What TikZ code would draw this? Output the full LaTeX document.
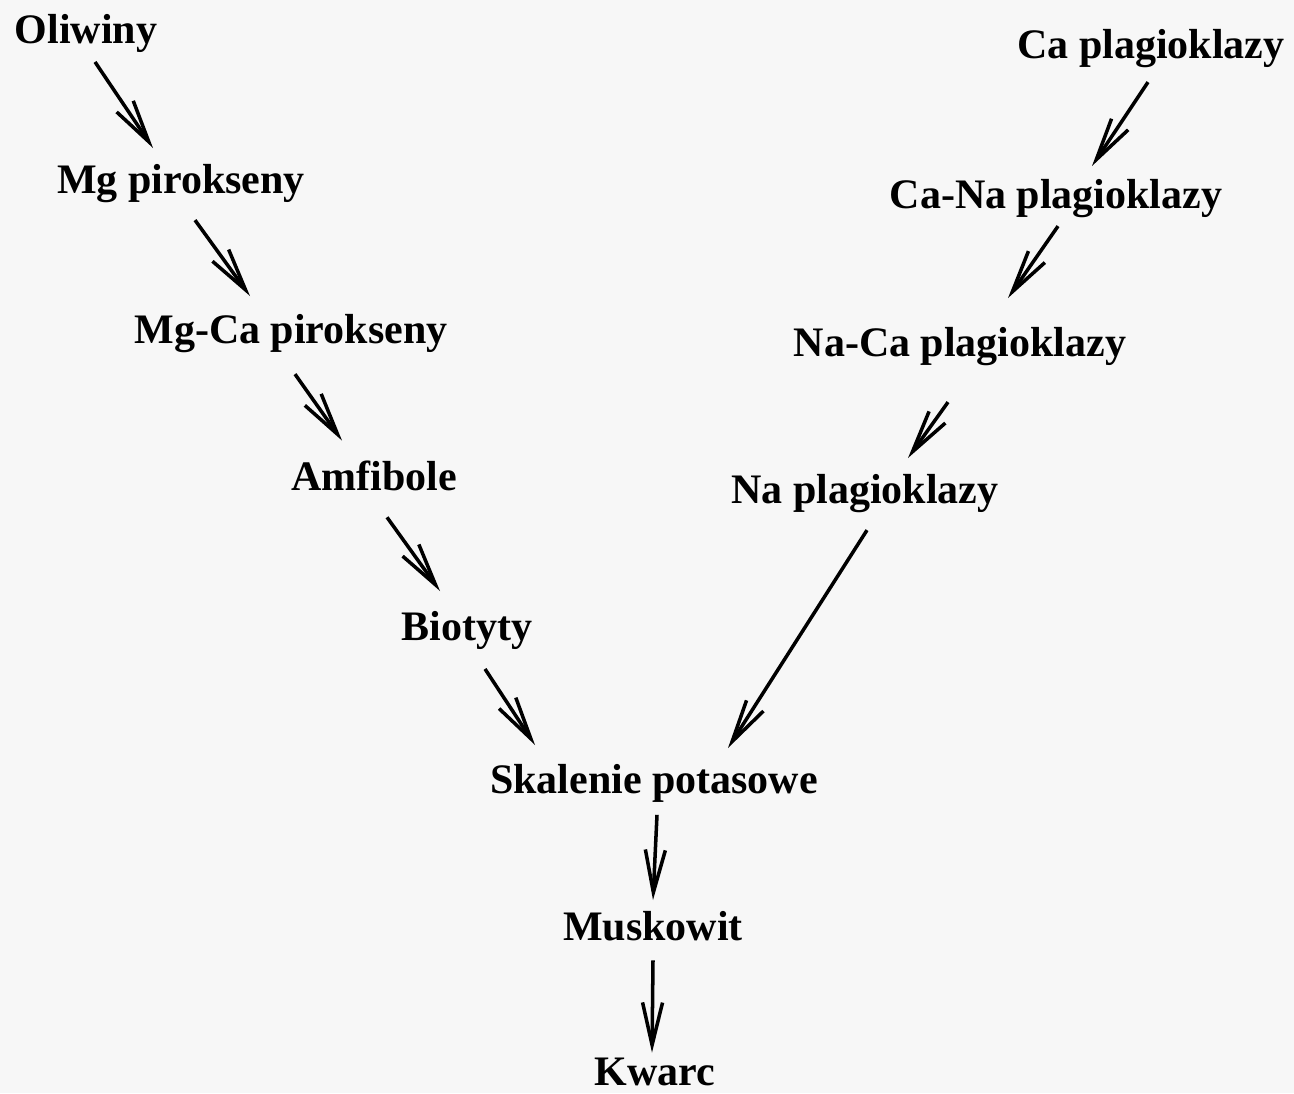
\documentclass[tikz,border=0pt]{standalone}
\usepackage{fontspec}
\setmainfont{Liberation Serif}
\usepackage{tikz}
\usetikzlibrary{arrows.meta,calc}

\tikzset{
  mineral/.style={font=\fontsize{23.9}{28}\selectfont\bfseries, inner sep=2pt, anchor=base},
  seq/.style={-{Straight Barb[length=8.5mm,width=4mm]}, line width=2pt},
}

\begin{document}
\begin{tikzpicture}[x=0.02cm,y=-0.02cm]
  \fill[black!3] (0,0) rectangle (1294,1093);
  % mafic branch
  \node[mineral] (oliw) at (86,43)   {Oliwiny};
  \node[mineral] (mgp)  at (181,193) {Mg pirokseny};
  \node[mineral] (mgcp) at (291,343) {Mg-Ca pirokseny};
  \node[mineral] (amf)  at (374,490) {Amfibole};
  \node[mineral] (bio)  at (467,640) {Biotyty};
  % plagioclase branch
  \node[mineral] (cap)  at (1151,58)  {Ca plagioklazy};
  \node[mineral] (canp) at (1056,208) {Ca-Na plagioklazy};
  \node[mineral] (nacp) at (960,356)  {Na-Ca plagioklazy};
  \node[mineral] (nap)  at (865,503)  {Na plagioklazy};
  % common tail
  \node[mineral] (skal) at (654,793)  {Skalenie potasowe};
  \node[mineral] (musk) at (653,940)  {Muskowit};
  \node[mineral] (kw)   at (655,1085) {Kwarc};

  \draw[seq] ($(oliw.south)+(9,6)$)   -- ($(mgp.north)+(-28,-12)$);
  \draw[seq] ($(mgp.south)+(14,14)$)  -- ($(mgcp.north)+(-41,-14)$);
  \draw[seq] ($(mgcp.south)+(4,18)$)  -- ($(amf.north)+(-32,-16)$);
  \draw[seq] ($(amf.south)+(13,23)$)  -- ($(bio.north)+(-27,-16)$);
  \draw[seq] ($(bio.south)+(18,16)$)  -- ($(skal.north)+(-119,-15)$);
  \draw[seq] ($(cap.south)+(-3,11)$)  -- ($(canp.north)+(36,-9)$);
  \draw[seq] ($(canp.south)+(2,5)$)   -- ($(nacp.north)+(48,-25)$);
  \draw[seq] ($(nacp.south)+(-12,33)$) -- ($(nap.north)+(43,-12)$);
  \draw[seq] ($(nap.south)+(2,14)$)   -- ($(skal.north)+(74,-12)$);
  \draw[seq] ($(skal.south)+(3,9)$)   -- ($(musk.north)+(0,-7)$);
  \draw[seq] ($(musk.south)+(0,16)$)  -- ($(kw.north)+(-3,-1)$);
\end{tikzpicture}
\end{document}
